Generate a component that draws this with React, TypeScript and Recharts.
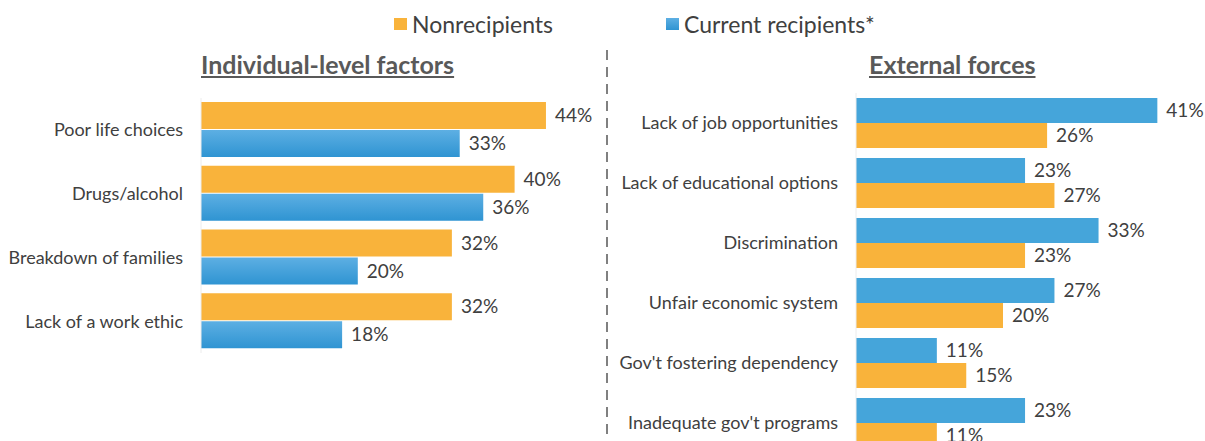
import React from 'react'
import { BarChart, Bar, XAxis, YAxis, LabelList } from 'recharts'

const individualFactors = ['Poor life choices', 'Drugs/alcohol', 'Breakdown of families', 'Lack of a work ethic']
const individualNon = [44, 40, 32, 32]
const individualCur = [33, 36, 20, 18]

const externalForces = [
  'Lack of job opportunities',
  'Lack of educational options',
  'Discrimination',
  'Unfair economic system',
  "Gov't fostering dependency",
  "Inadequate gov't programs"
]
const externalCur = [41, 23, 33, 27, 11, 23]
const externalNon = [26, 27, 23, 20, 15, 11]

const ORANGE = '#F9B33B'
const BLUE = '#45A5DA'
const TEXT = '#404040'
const FONT = 'Lato, "Open Sans", sans-serif'

const leftData = individualFactors.map((name, i) => ({ name, non: individualNon[i], cur: individualCur[i] }))
const rightData = externalForces.map((name, i) => ({ name, cur: externalCur[i], non: externalNon[i] }))

const pct = (v: any) => `${v}%`

const App: React.FC = () => {
  return (
    <div
      style={{
        position: 'absolute',
        top: 0,
        left: 0,
        width: 1205,
        height: 441,
        overflow: 'hidden',
        background: '#fff',
        fontFamily: FONT
      }}
    >
      {/* legend */}
      <div style={{ position: 'absolute', top: 10, left: 394, display: 'flex', alignItems: 'center', fontSize: 23, color: TEXT }}>
        <span style={{ width: 12.5, height: 12.5, background: ORANGE, display: 'inline-block', marginRight: 5.5 }} />
        <span>Nonrecipients</span>
      </div>
      <div style={{ position: 'absolute', top: 10, left: 666, display: 'flex', alignItems: 'center', fontSize: 23, color: TEXT }}>
        <span style={{ width: 12.5, height: 12.5, background: 'linear-gradient(#5DAFE3, #2F94D2)', display: 'inline-block', marginRight: 5.5 }} />
        <span>Current recipients*</span>
      </div>

      {/* panel titles */}
      <div style={{ position: 'absolute', top: 49, left: 201, fontSize: 25, fontWeight: 700, color: '#595959', textDecoration: 'underline' }}>
        Individual-level factors
      </div>
      <div style={{ position: 'absolute', top: 49, left: 869, fontSize: 25, fontWeight: 700, color: '#595959', textDecoration: 'underline' }}>
        External forces
      </div>

      {/* divider */}
      <svg style={{ position: 'absolute', left: 600, top: 0 }} width={14} height={441}>
        <line x1={7} y1={50} x2={7} y2={441} stroke="#808080" strokeWidth={2} strokeDasharray="10 7" />
      </svg>

      <div style={{ position: 'absolute', top: 0, left: 0 }}>
        <BarChart
          width={610}
          height={441}
          layout="vertical"
          data={leftData}
          margin={{ top: 98, right: 17, bottom: 88, left: 0 }}
          barSize={27}
          barGap={1}
        >
          <defs>
            <linearGradient id="blueGrad" x1="0" y1="0" x2="0" y2="1">
              <stop offset="0%" stopColor="#5DAFE3" />
              <stop offset="100%" stopColor="#2F94D2" />
            </linearGradient>
          </defs>
          <XAxis type="number" domain={[0, 50]} hide />
          <YAxis
            type="category"
            dataKey="name"
            width={201}
            axisLine={{ stroke: '#ececec' }}
            tickLine={false}
            tickSize={6}
            tickMargin={12}
            tick={{ fill: TEXT, fontSize: 18, fontFamily: FONT }}
          />
          <Bar dataKey="non" fill={ORANGE} isAnimationActive={false}>
            <LabelList dataKey="non" position="right" offset={9} formatter={pct} fill={TEXT} fontSize={19} fontFamily={FONT} />
          </Bar>
          <Bar dataKey="cur" fill="url(#blueGrad)" isAnimationActive={false}>
            <LabelList dataKey="cur" position="right" offset={9} formatter={pct} fill={TEXT} fontSize={19} fontFamily={FONT} />
          </Bar>
        </BarChart>
      </div>

      <div style={{ position: 'absolute', top: 0, left: 0 }}>
        <BarChart
          width={1205}
          height={470}
          layout="vertical"
          data={rightData}
          margin={{ top: 93, right: 18.25, bottom: 17, left: 0 }}
          barSize={25}
          barGap={0}
        >
          <XAxis type="number" domain={[0, 45]} hide />
          <YAxis
            type="category"
            dataKey="name"
            width={856}
            axisLine={{ stroke: '#ececec' }}
            tickLine={false}
            tickSize={6}
            tickMargin={12}
            tick={{ fill: TEXT, fontSize: 18, fontFamily: FONT }}
          />
          <Bar dataKey="cur" fill={BLUE} isAnimationActive={false}>
            <LabelList dataKey="cur" position="right" offset={9} formatter={pct} fill={TEXT} fontSize={19} fontFamily={FONT} />
          </Bar>
          <Bar dataKey="non" fill={ORANGE} isAnimationActive={false}>
            <LabelList dataKey="non" position="right" offset={9} formatter={pct} fill={TEXT} fontSize={19} fontFamily={FONT} />
          </Bar>
        </BarChart>
      </div>
    </div>
  )
}

export default App
